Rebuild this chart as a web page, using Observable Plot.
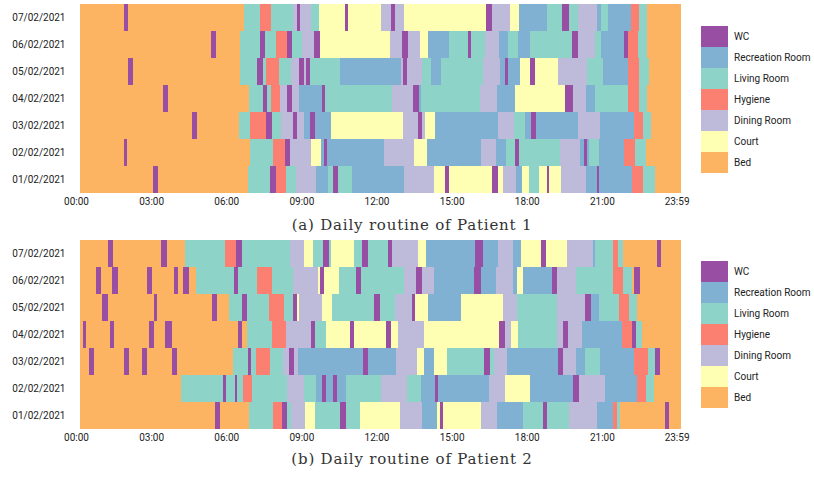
<!DOCTYPE html>
<html><head><meta charset="utf-8">
<script src="https://cdn.jsdelivr.net/npm/d3@7"></script>
<script src="https://cdn.jsdelivr.net/npm/@observablehq/plot@0.6"></script>
<style>
body{margin:0;background:#fff;width:814px;height:477px;position:relative;overflow:hidden;font-family:Roboto,sans-serif;}
.panel{position:absolute;left:0;}
.legend{position:absolute;left:701px;}
.legend .row{display:flex;align-items:center;height:21px;font-size:10px;color:#222;}
.legend .sw{width:27px;height:21px;margin-right:6px;}
.caption{position:absolute;width:814px;left:5px;text-align:center;font-family:"DejaVu Serif",serif;font-size:15px;letter-spacing:0.8px;color:#333;line-height:18px;}
</style></head><body>
<script>
const categories = ["WC","Recreation Room","Living Room","Hygiene","Dining Room","Court","Bed"];
const colors = ["#984ea3","#80b1d3","#8dd3c7","#fb8072","#bebada","#ffffb3","#fdb462"];
const codes = {W:"WC",R:"Recreation Room",L:"Living Room",H:"Hygiene",D:"Dining Room",C:"Court",B:"Bed"};
const dates = ["07/02/2021","06/02/2021","05/02/2021","04/02/2021","03/02/2021","02/02/2021","01/02/2021"];
const tickMinutes = [0,180,360,540,720,900,1080,1260,1439];
const tickLabels = ["00:00","03:00","06:00","09:00","12:00","15:00","18:00","21:00","23:59"];
const captions = ["(a) Daily routine of Patient 1","(b) Daily routine of Patient 2"];

// Each row: location code + start minute of each stay (row order = dates)
const patient1 = [
 "B0 W105 B115 L393 H431 L458 D510 W520 D527 L553 C573 W635 C642 D721 W745 D755 C776 W973 D987 C1030 R1052 L1119 W1155 L1172 D1193 R1239 L1248 R1265 H1320 L1339 B1359",
 "B0 W314 B326 L383 W431 L443 H470 W496 L508 D532 W561 C575 D743 W772 D786 C815 R834 L884 W930 L937 D970 R1004 L1025 R1049 L1078 W1179 D1193 L1234 R1248 W1303 H1313 L1337 B1359",
 "B0 W115 B127 L383 W424 L438 H446 L477 D506 W525 D537 W541 L551 R623 D769 W774 D783 L819 R841 L865 D966 R1006 W1018 R1025 C1054 W1078 C1090 D1145 L1215 R1253 H1313 L1339 B1363",
 "B0 W199 B211 L405 W438 L448 H458 D479 W496 D508 R525 W580 L587 D748 W798 R812 L817 D958 R999 C1042 W1162 D1181 R1212 L1234 H1313 L1339 B1359",
 "B0 W268 B280 L381 H407 W446 L460 D482 W510 D520 R537 W551 R563 C601 D774 W810 D819 C827 R851 D1002 L1040 R1066 W1081 R1093 D1193 R1246 H1327 L1349 B1368",
 "B0 W105 B113 L407 H462 W491 D503 C553 R577 W585 R592 D728 C800 R831 D961 R997 L1021 W1042 L1052 D1150 R1198 W1208 R1215 L1220 R1244 H1303 L1330 B1356",
 "B0 W175 B187 L403 W455 H470 L494 D518 R565 L594 W606 L618 R652 D776 C848 W875 C884 W987 C1002 D1013 R1045 C1059 L1076 C1100 W1119 C1124 D1152 R1212 W1239 R1244 H1323 L1349 B1378"
];
const patient2 = [
 "B0 W67 B79 W194 B208 L252 H347 W374 L388 D503 C537 L558 W582 L597 C601 L656 W676 L690 W738 D748 C810 R829 W946 R966 D1002 R1037 C1057 W1105 C1117 D1167 R1229 L1234 H1277 L1289 B1301 W1382 B1392",
 "B0 W38 B50 W77 B91 W161 B173 W225 B235 W247 B261 L278 W369 L379 H424 L460 D510 C570 W575 C585 L621 W661 L673 D776 W805 D819 R848 W944 R961 D997 R1037 C1047 R1061 W1131 D1143 L1188 H1277 L1301 B1323 W1327 B1342",
 "B0 W53 B67 W177 B184 W316 B328 L357 W388 L400 H453 L489 W510 C520 D525 C580 L604 W704 L719 D755 W795 C803 R834 C913 D1013 L1047 D1143 W1210 R1224 L1244 H1291 L1315 B1335",
 "B0 W7 B14 W72 B81 W165 B177 W204 B220 W379 B388 L400 H460 D494 W553 L563 C589 W647 C656 W733 C745 D762 C824 W1004 D1018 C1033 L1049 D1143 W1157 D1169 R1203 H1299 W1323 L1332 B1347",
 "B0 W22 B34 W105 B117 W149 B161 W220 B232 L367 W403 L410 H422 L455 D486 W501 D513 R522 W678 R690 D757 C807 R824 C848 L879 W968 L982 D992 R1023 W1145 D1157 R1188 L1210 R1246 H1327 L1361 W1378 B1390",
 "B0 L242 W343 L350 W371 L376 H391 L412 D496 L537 R565 W580 R589 W606 R616 L637 D721 L783 R817 W851 R858 D980 C1018 R1078 W1181 D1196 R1258 H1335 L1356 B1375",
 "B0 W323 B335 L405 H462 W484 L496 D506 C539 L563 W623 L637 C671 D767 R819 C855 W863 C870 D961 R999 L1061 W1109 L1119 D1172 R1239 H1277 L1287 B1294 W1402 B1411"
];

function segments(rows){
  const out=[];
  rows.forEach((s,i)=>{
    const parts=s.trim().split(/\s+/).map(p=>({loc:codes[p[0]],start:+p.slice(1)}));
    parts.forEach((p,j)=>out.push({date:dates[i],loc:p.loc,start:p.start,end:j+1<parts.length?parts[j+1].start:1440}));
  });
  return out;
}

function chart(data){
  return Plot.plot({
    width:690,height:212,marginLeft:80,marginRight:9,marginTop:3,marginBottom:18,
    style:{fontFamily:"Roboto, sans-serif",fontSize:"10px",color:"#222",background:"transparent"},
    x:{domain:[0,1440]},
    y:{domain:dates,padding:0},
    color:{domain:categories,range:colors},
    marks:[
      Plot.barX(data,{x1:"start",x2:"end",y:"date",fill:"loc",shapeRendering:"crispEdges"}),
      Plot.axisX({ticks:tickMinutes,tickFormat:d=>tickLabels[tickMinutes.indexOf(d)],tickSize:0,tickPadding:3,dx:-4,label:null}),
      Plot.axisY({tickSize:0,tickPadding:15,label:null})
    ]
  });
}

function legend(top){
  const div=document.createElement("div");
  div.className="legend";div.style.top=top+"px";
  categories.forEach((c,i)=>{
    const r=document.createElement("div");r.className="row";
    const sw=document.createElement("div");sw.className="sw";sw.style.background=colors[i];
    const t=document.createElement("span");t.textContent=c;
    r.appendChild(sw);r.appendChild(t);div.appendChild(r);
  });
  return div;
}

const panels=[{rows:patient1,top:0,legendTop:26,capTop:216},{rows:patient2,top:236,legendTop:261,capTop:450}];
panels.forEach((p,k)=>{
  const wrap=document.createElement("div");wrap.className="panel";wrap.style.top=p.top+"px";
  wrap.appendChild(chart(segments(p.rows)));
  document.body.appendChild(wrap);
  document.body.appendChild(legend(p.legendTop));
  const cap=document.createElement("div");cap.className="caption";cap.style.top=p.capTop+"px";cap.textContent=captions[k];
  document.body.appendChild(cap);
});
</script>
</body></html>
